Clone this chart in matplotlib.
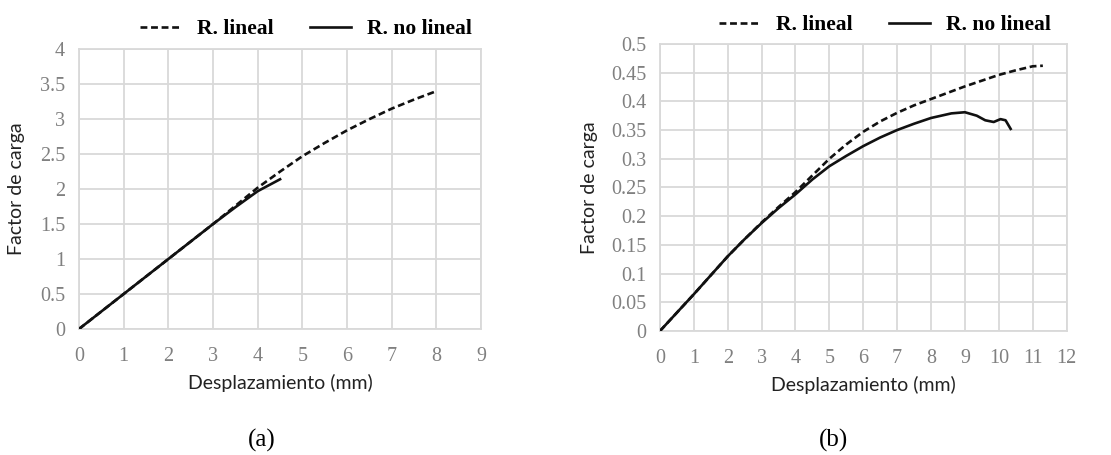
import matplotlib
matplotlib.use('Agg')
import matplotlib.pyplot as plt

# (a) load factor vs displacement
a_lin_x = [0, 1, 2, 3, 3.5, 4, 4.5, 5, 5.5, 6, 6.5, 7, 7.5, 8]
a_lin_y = [0, 0.5, 1.0, 1.5, 1.76, 2.02, 2.25, 2.47, 2.66, 2.84, 3.0, 3.15, 3.28, 3.40]
a_nl_x = [0, 1, 2, 3, 3.5, 4, 4.5]
a_nl_y = [0, 0.5, 1.0, 1.5, 1.74, 1.97, 2.14]

# (b)
b_lin_x = [0, 0.5, 1, 1.5, 2, 2.5, 3, 3.5, 4, 4.5, 5, 5.5, 6, 6.5, 7, 7.5, 8,
           8.5, 9, 9.5, 10, 10.5, 11, 11.3]
b_lin_y = [0, 0.032, 0.064, 0.097, 0.13, 0.16, 0.189, 0.216, 0.242, 0.271, 0.300, 0.325,
           0.347, 0.365, 0.380, 0.393, 0.404, 0.415, 0.426, 0.436, 0.446, 0.454, 0.461, 0.462]
b_nl_x = [0, 0.5, 1, 1.5, 2, 2.5, 3, 3.5, 4, 4.5, 5, 5.5, 6, 6.5, 7, 7.5, 8, 8.6, 9,
          9.35, 9.6, 9.85, 10.05, 10.2, 10.35]
b_nl_y = [0, 0.032, 0.064, 0.097, 0.13, 0.16, 0.188, 0.214, 0.238, 0.264, 0.287, 0.305,
          0.322, 0.337, 0.350, 0.361, 0.371, 0.379, 0.381, 0.375, 0.367, 0.364, 0.369,
          0.367, 0.352]

a_xticks = list(range(0, 10))
a_yticks = [0, 0.5, 1, 1.5, 2, 2.5, 3, 3.5, 4]
a_ylabels = ['0', '0.5', '1', '1.5', '2', '2.5', '3', '3.5', '4']
b_xticks = list(range(0, 13))
b_yticks = [0, 0.05, 0.1, 0.15, 0.2, 0.25, 0.3, 0.35, 0.4, 0.45, 0.5]
b_ylabels = ['0', '0.05', '0.1', '0.15', '0.2', '0.25', '0.3', '0.35', '0.4', '0.45', '0.5']

serif = 'Liberation Serif'
sans = 'Lato'
grid_c = '#d9d9d9'

fig = plt.figure(figsize=(11.11, 4.55), dpi=100)
ax_a = fig.add_axes([0.0711, 0.277, 0.362, 0.615])
ax_b = fig.add_axes([0.594, 0.2725, 0.366, 0.631])

panels = [
    (ax_a, a_lin_x, a_lin_y, a_nl_x, a_nl_y, a_xticks, a_yticks, a_ylabels, (0, 9), (0, 4)),
    (ax_b, b_lin_x, b_lin_y, b_nl_x, b_nl_y, b_xticks, b_yticks, b_ylabels, (0, 12), (0, 0.5)),
]

for ax, lx, ly, nx, ny, xt, yt, yl, xlim, ylim in panels:
    ax.plot(lx, ly, color='#111111', lw=1.9, ls=(0, (2.6, 1.4)), label='R. lineal', zorder=3)
    ax.plot(nx, ny, color='#111111', lw=1.9, label='R. no lineal', zorder=4)
    ax.set_xlim(*xlim)
    ax.set_ylim(*ylim)
    ax.set_xticks(xt)
    ax.set_yticks(yt)
    ax.set_yticklabels(yl)
    ax.grid(True, color=grid_c, lw=1.3)
    ax.set_axisbelow(True)
    for s in ax.spines.values():
        s.set_color(grid_c)
        s.set_linewidth(1.3)
    ax.tick_params(length=0, labelsize=14.5, labelcolor='#808080')
    ax.tick_params(axis='y', pad=10)
    ax.tick_params(axis='x', pad=13)
    for t in ax.get_xticklabels() + ax.get_yticklabels():
        t.set_fontfamily(serif)
    ax.set_xlabel('Desplazamiento (mm)', fontsize=14, family=sans, color='#222222', labelpad=6)
    ax.set_ylabel('Factor de carga', fontsize=14, family=sans, color='#222222')

ax_a.yaxis.set_label_coords(-0.134, 0.5)
ax_b.yaxis.set_label_coords(-0.152, 0.5)

legend_pos = [(ax_a, 306 / 1111, 1 - 29 / 455), (ax_b, 885 / 1111, 1 - 25 / 455)]
for ax, lx, ly in legend_pos:
    ax.legend(loc='center', bbox_to_anchor=(lx, ly), bbox_transform=fig.transFigure,
              ncol=2, frameon=False,
              prop={'family': serif, 'weight': 'bold', 'size': 15.5},
              handlelength=1.9, handletextpad=0.75, columnspacing=1.7,
              borderpad=0.1)

fig.text(262 / 1111, 1 - 440 / 455, '(a)', ha='center', va='center', family=serif, fontsize=18)
fig.text(833 / 1111, 1 - 440 / 455, '(b)', ha='center', va='center', family=serif, fontsize=18)

fig.savefig('out.png', dpi=100)
plt.close(fig)
